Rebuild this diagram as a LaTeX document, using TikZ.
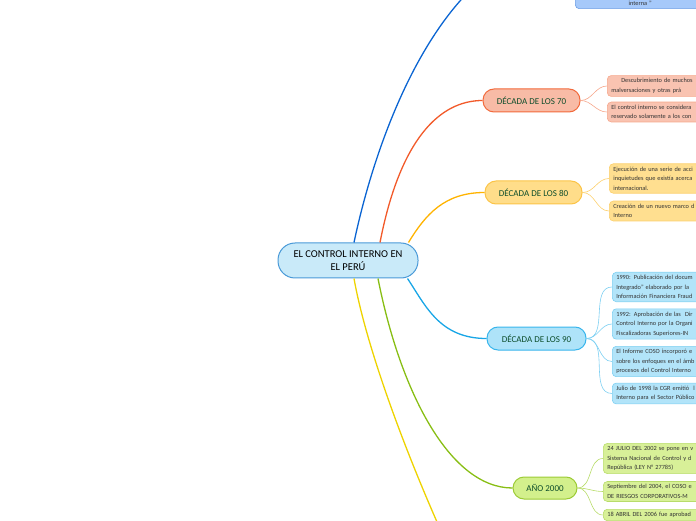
\documentclass[tikz,border=0pt]{standalone}
\usepackage{fontspec}
\setmainfont{Carlito}
\usepackage{tikz}
\usetikzlibrary{positioning}
\definecolor{HubFill}{RGB}{201,234,249}
\definecolor{HubLine}{RGB}{74,154,216}
\definecolor{BlueBranch}{RGB}{10,100,210}
\definecolor{TopFill}{RGB}{166,201,250}
\definecolor{TopLine}{RGB}{109,159,229}
\definecolor{OrBranch}{RGB}{242,90,42}
\definecolor{OrFill}{RGB}{248,187,166}
\definecolor{OrLine}{RGB}{242,106,60}
\definecolor{OrKidFill}{RGB}{249,195,177}
\definecolor{OrKidLine}{RGB}{246,167,140}
\definecolor{AmBranch}{RGB}{255,179,0}
\definecolor{AmFill}{RGB}{255,221,138}
\definecolor{AmLine}{RGB}{251,196,71}
\definecolor{AmKidFill}{RGB}{255,223,144}
\definecolor{AmKidLine}{RGB}{252,208,108}
\definecolor{CyBranch}{RGB}{25,166,230}
\definecolor{CyFill}{RGB}{174,227,249}
\definecolor{CyLine}{RGB}{56,181,236}
\definecolor{CyKidFill}{RGB}{178,228,249}
\definecolor{CyKidLine}{RGB}{126,208,242}
\definecolor{GrBranch}{RGB}{136,190,20}
\definecolor{GrFill}{RGB}{211,240,140}
\definecolor{GrLine}{RGB}{156,203,53}
\definecolor{GrKidFill}{RGB}{216,240,152}
\definecolor{GrKidLine}{RGB}{184,220,106}
\definecolor{YeBranch}{RGB}{238,211,0}
\definecolor{LabelGreen}{RGB}{13,77,43}
\definecolor{KidText}{RGB}{51,51,51}

\begin{document}
\begin{tikzpicture}[
    x=1pt, y=1pt,
    hub/.style={rounded corners=17pt, draw=HubLine, fill=HubFill, line width=1pt,
      minimum width=140pt, minimum height=35pt, align=center,
      font=\fontsize{10.5}{13}\selectfont},
    era/.style={rounded corners=11pt, line width=1pt, minimum height=23pt,
      text=LabelGreen, font=\fontsize{9}{11}\selectfont},
    kid/.style={rounded corners=4pt, anchor=west, line width=0.6pt, text width=118pt,
      align=left, inner xsep=4pt, inner ysep=3pt, text=KidText,
      font=\fontsize{6.3}{9.5}\selectfont},
    branch/.style={line width=1.3pt},
    twig/.style={line width=0.6pt}
  ]
  \useasboundingbox (0,0) rectangle (696,520);
  \clip (0,0) rectangle (696,520);

  % centre
  \node[hub] (hub) at (348,259.5) {EL CONTROL INTERNO EN\\EL PERÚ};

  % branches
  \node[kid, draw=TopLine, fill=TopFill, anchor=south west, text width=122pt,
    align=center, text height=128pt] (topnote) at (575,511) {interna ”};

  \node[era, draw=OrLine, fill=OrFill, minimum width=97pt] (d70) at (531.5,419.5) {DÉCADA DE LOS 70};
  \node[era, draw=AmLine, fill=AmFill, minimum width=97pt] (d80) at (533.5,327.5) {DÉCADA DE LOS 80};
  \node[era, draw=CyLine, fill=CyFill, minimum width=99pt] (d90) at (536.5,181.5) {DÉCADA DE LOS 90};
  \node[era, draw=GrLine, fill=GrFill, minimum width=64pt, minimum height=22pt] (d2000) at (545,32) {AÑO 2000};
  \coordinate (yelend) at (445,-20);

  \draw[branch, BlueBranch] ([xshift=6pt]hub.north) .. controls +(26,123) and +(-125,0) .. (topnote.west);
  \draw[branch, OrBranch] ([xshift=32pt]hub.north) .. controls +(20,103) and +(-43,0) .. (d70.west);
  \draw[branch, AmBranch] ([xshift=-10pt]hub.north east) .. controls +(17,28) and +(-40,0) .. (d80.west);
  \draw[branch, CyBranch] ([xshift=-11pt]hub.south east) .. controls +(18,-27) and +(-47,0) .. (d90.west);
  \draw[branch, GrBranch] ([xshift=30pt]hub.south) .. controls +(22,-112) and +(-63,0) .. (d2000.west);
  \draw[branch, YeBranch] ([xshift=6pt]hub.south) .. controls +(11,-62) and +(-45,100) .. (yelend);

  % decada 70
  \node[kid, draw=OrKidLine, fill=OrKidFill] (k70a) at (607,434)
    {\hspace*{10pt}Descubrimiento de muchos\\malversaciones y otras prá};
  \node[kid, draw=OrKidLine, fill=OrKidFill] (k70b) at (607,408)
    {El control interno se considera\\reservado solamente a los con};
  \foreach \k in {k70a,k70b}
    \draw[twig, OrKidLine] (d70.east) to[out=0,in=180] (\k.west);

  % decada 80
  \node[kid, draw=AmKidLine, fill=AmKidFill] (k80a) at (609,341.5)
    {Ejecución de una serie de acci\\inquietudes que existía acerca\\internacional.};
  \node[kid, draw=AmKidLine, fill=AmKidFill] (k80b) at (609,309)
    {Creación de un nuevo marco d\\Interno};
  \foreach \k in {k80a,k80b}
    \draw[twig, AmKidLine] (d80.east) to[out=0,in=180] (\k.west);

  % decada 90
  \node[kid, draw=CyKidLine, fill=CyKidFill] (k90a) at (612,233)
    {1990: Publicación del docum\\Integrado” elaborado por la\\Información Financiera Fraud};
  \node[kid, draw=CyKidLine, fill=CyKidFill] (k90b) at (612,196)
    {1992: Aprobación de las \ Dir\\Control Interno por la Organi\\Fiscalizadoras Superiores-IN};
  \node[kid, draw=CyKidLine, fill=CyKidFill] (k90c) at (612,158.5)
    {El Informe COSO incorporó e\\sobre los enfoques en el ámb\\procesos del Control Interno};
  \node[kid, draw=CyKidLine, fill=CyKidFill] (k90d) at (612,126.5)
    {Julio de 1998 la CGR emitió \ l\\Interno para el Sector Público};
  \foreach \k in {k90a,k90b,k90c,k90d}
    \draw[twig, CyKidLine] (d90.east) to[out=0,in=180] (\k.west);

  % anio 2000
  \node[kid, draw=GrKidLine, fill=GrKidFill] (k00a) at (603,61.5)
    {24 JULIO DEL 2002 se pone en v\\Sistema Nacional de Control y d\\República (LEY N° 27785)};
  \node[kid, draw=GrKidLine, fill=GrKidFill] (k00b) at (603,28.5)
    {Septiembre del 2004, el COSO e\\DE RIESGOS CORPORATIVOS-M};
  \node[kid, draw=GrKidLine, fill=GrKidFill, anchor=north west] (k00c) at (603,11)
    {18 ABRIL DEL 2006 fue aprobad};
  \foreach \k in {k00a,k00b,k00c}
    \draw[twig, GrKidLine] (d2000.east) to[out=0,in=180] (\k.west);
\end{tikzpicture}
\end{document}
